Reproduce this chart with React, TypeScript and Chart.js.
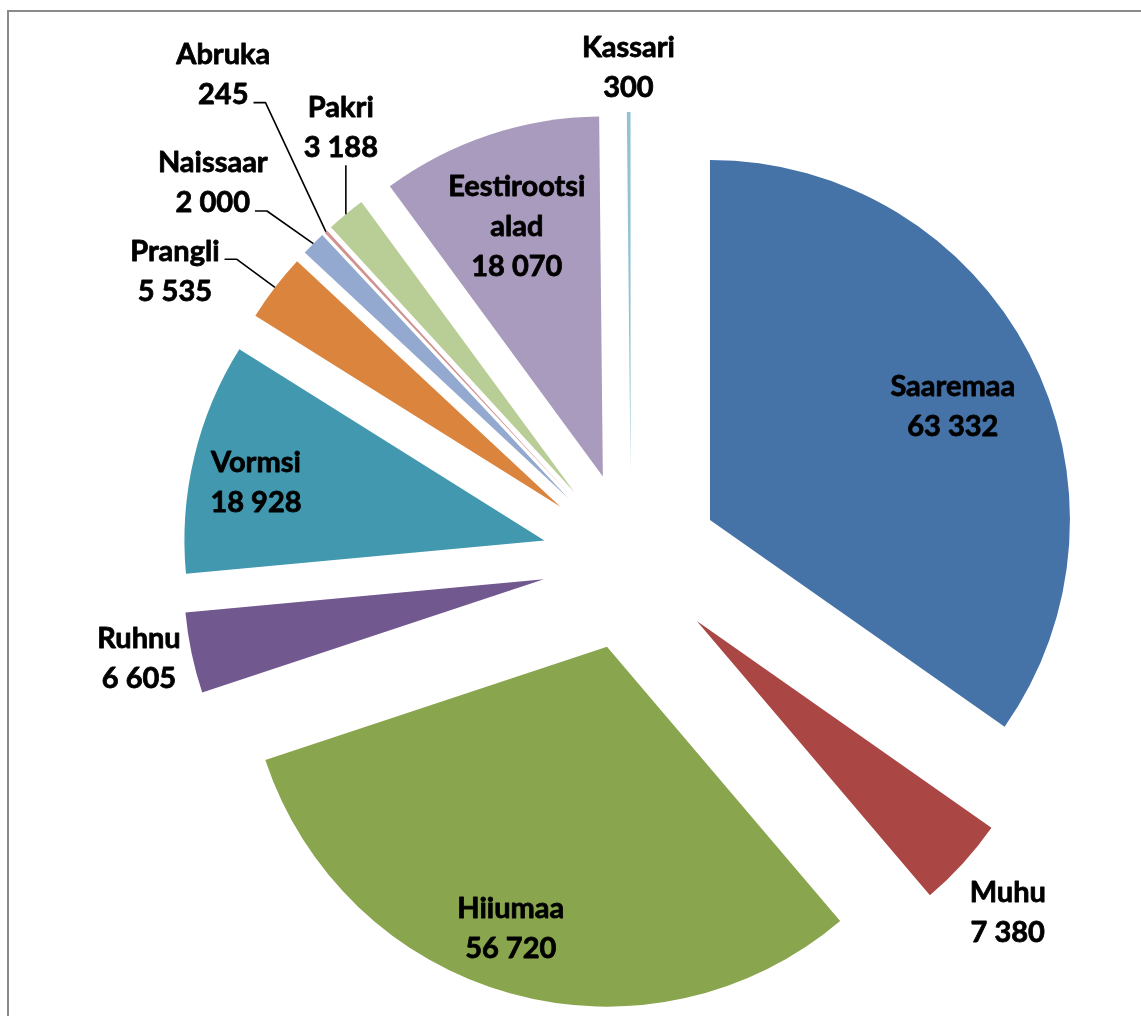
import React, { useEffect, useRef } from 'react';
import { Chart, registerables } from 'chart.js';

Chart.register(...registerables);

// ---- data ----
const categories = [
  'Saaremaa', 'Muhu', 'Hiiumaa', 'Ruhnu', 'Vormsi', 'Prangli',
  'Naissaar', 'Abruka', 'Pakri', 'Eestirootsi alad', 'Kassari',
];
const values = [63332, 7380, 56720, 6605, 18928, 5535, 2000, 245, 3188, 18070, 300];
const colors = [
  '#4572A7', '#AA4643', '#89A54E', '#71588F', '#4198AF', '#DB843D',
  '#93A9CF', '#D19392', '#B9CD96', '#A99BBD', '#92C3D4',
];

// ---- label layout (relative to each exploded slice) ----
const labelDist = [0.744, 1.184, 0.828, 1.146, 0.817, 1.255, 1.319, 1.516, 1.204, 0.733, 1.122];
const labelShiftDeg = [2.5, 0.8, 3.2, 0.8, -2.1, -6.1, -3.4, 3.3, 6.8, -0.6, 0];
const labelLeader = ['none', 'none', 'none', 'none', 'none', 'elbow', 'elbow', 'elbow', 'vertical', 'none', 'none'];
const leaderAttachLine = [0, 0, 0, 0, 0, 0, 1, 1, 1, 0, 0];
const wrapName = [false, false, false, false, false, false, false, false, false, true, false];

const EXPLODE = 89;
const RADIUS = 360;
const FONT = 'bold 29px Lato';
const LINE_H = 40;

const fmt = (v: number) => String(v).replace(/\B(?=(\d{3})+(?!\d))/g, ' ');

const explodePlugin = {
  id: 'explode',
  afterDatasetsUpdate(chart: any) {
    const meta = chart.getDatasetMeta(0);
    meta.data.forEach((arc: any) => {
      const mid = (arc.startAngle + arc.endAngle) / 2;
      arc.x = arc.x + EXPLODE * Math.cos(mid);
      arc.y = arc.y + EXPLODE * Math.sin(mid);
    });
  },
};

const framePlugin = {
  id: 'frame',
  beforeDraw(chart: any) {
    const ctx = chart.ctx;
    ctx.save();
    ctx.strokeStyle = '#8a8a8a';
    ctx.lineWidth = 2;
    ctx.strokeRect(8, 11, chart.width + 20, chart.height + 20);
    ctx.restore();
  },
};

const labelPlugin = {
  id: 'sliceLabels',
  afterDatasetsDraw(chart: any) {
    const ctx = chart.ctx;
    const meta = chart.getDatasetMeta(0);
    ctx.save();
    ctx.font = FONT;
    ctx.fillStyle = '#000';
    ctx.textAlign = 'center';
    ctx.textBaseline = 'middle';
    meta.data.forEach((arc: any, i: number) => {
      const mid = (arc.startAngle + arc.endAngle) / 2;
      const R = arc.outerRadius;
      const a = mid + (labelShiftDeg[i] * Math.PI) / 180;
      const cx = arc.x + labelDist[i] * R * Math.cos(a);
      const cy = arc.y + labelDist[i] * R * Math.sin(a);
      const nameLines = wrapName[i] ? categories[i].split(' ') : [categories[i]];
      const lines = [...nameLines, fmt(values[i])];
      const top = cy - ((lines.length - 1) * LINE_H) / 2;
      ctx.strokeStyle = '#000';
      ctx.lineWidth = 0.8;
      ctx.lineJoin = 'round';
      lines.forEach((t, k) => {
        ctx.fillText(t, cx, top + k * LINE_H);
        ctx.strokeText(t, cx, top + k * LINE_H);
      });

      const px = arc.x + R * Math.cos(mid);
      const py = arc.y + R * Math.sin(mid);
      ctx.lineWidth = 1.6;
      if (labelLeader[i] === 'elbow') {
        const li = leaderAttachLine[i];
        const w = ctx.measureText(lines[li]).width;
        const sx = cx + w / 2 + 5;
        const sy = top + li * LINE_H + 8;
        ctx.beginPath();
        ctx.moveTo(sx, sy);
        ctx.lineTo(sx + 12, sy);
        ctx.lineTo(px, py);
        ctx.stroke();
      } else if (labelLeader[i] === 'vertical') {
        const bottom = top + (lines.length - 1) * LINE_H + 18;
        ctx.beginPath();
        ctx.moveTo(px, bottom);
        ctx.lineTo(px, py);
        ctx.stroke();
      }
    });
    ctx.restore();
  },
};

export default function App() {
  const ref = useRef<HTMLCanvasElement | null>(null);
  useEffect(() => {
    if (!ref.current) return;
    const chart = new Chart(ref.current, {
      type: 'pie',
      data: {
        labels: categories,
        datasets: [
          {
            data: values,
            backgroundColor: colors,
            borderWidth: 0,
            radius: RADIUS,
            clip: false,
          } as any,
        ],
      },
      options: {
        responsive: false,
        animation: false,
        events: [],
        devicePixelRatio: 1,
        layout: { padding: { left: 121, top: 106, right: 0, bottom: 0 } },
        plugins: {
          legend: { display: false },
          tooltip: { enabled: false },
        },
      },
      plugins: [framePlugin, explodePlugin, labelPlugin],
    });
    return () => chart.destroy();
  }, []);
  return (
    <div style={{ position: 'absolute', left: 0, top: 0, width: 1141, height: 1016, background: '#fff' }}>
      <canvas ref={ref} width={1141} height={1016} style={{ display: 'block' }} />
    </div>
  );
}
